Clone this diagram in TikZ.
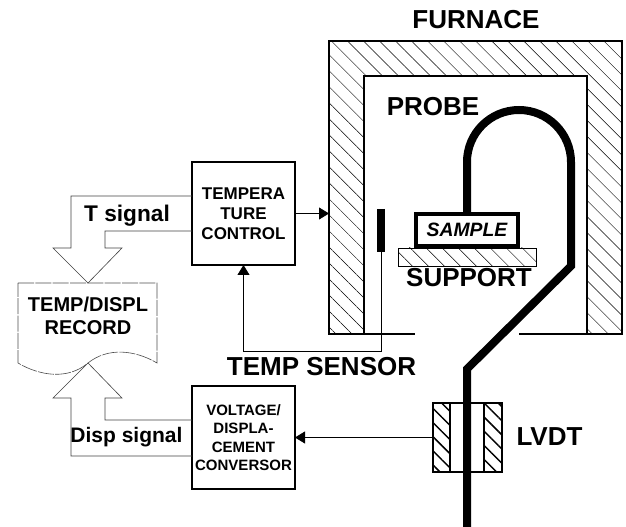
\documentclass[tikz,border=0pt]{standalone}
\usepackage{fontspec}
\setmainfont{Liberation Sans}
\usetikzlibrary{arrows.meta, patterns.meta}

\begin{document}
\begin{tikzpicture}[
    x=0.75pt, y=-0.75pt,
    every node/.style={
      inner sep=0pt, outer sep=0pt,
    },
    biglabel/.style={
      font=\bfseries\fontsize{19.5}{22}\selectfont
    },
    siglabel/.style={
      font=\bfseries\fontsize{#1}{20}\selectfont
    },
    ctrlbox/.style 2 args={
      draw, line width=1pt, minimum width=77.25pt, minimum height=77.25pt,
      align=center, font=\bfseries\fontsize{#1}{#2}\selectfont
    },
    wall/.style={
      draw, line width=0.8pt,
      pattern={Lines[angle=-45, distance=8.5pt, line width=0.35pt]}
    },
    coil/.style={
      draw, line width=1pt,
      pattern={Lines[angle=-45, distance=7.5pt, line width=1.1pt]}
    },
    probe/.style={
      line width=6pt, line join=miter
    },
    link/.style={
      line width=0.6pt, -{Triangle[length=7.5pt, width=9pt]}
    },
    hollow/.style={
      line width=0.45pt, draw=black!75, line join=miter
    }
  ]
  \useasboundingbox (0,0) rectangle (626,527);

  % furnace
  \draw[wall] (329,334) -- (329,41) -- (622,41) -- (622,334) -- (587,334)
    -- (587,76) -- (364,76) -- (364,334) -- cycle;
  \coordinate (gapl) at (415,334);
  \coordinate (gapr) at (519,334);
  \draw[line width=0.8pt] (364,334) -- (gapl);
  \draw[line width=0.8pt] (gapr) -- (587,334);

  % support and sample
  \draw[line width=0.6pt, pattern={Lines[angle=-45, distance=8.5pt, line width=0.35pt]}]
    (398,248) rectangle (536,266);
  \node[draw, line width=3pt, minimum width=76pt, minimum height=24pt,
    font=\bfseries\itshape\fontsize{14.5}{16}\selectfont] (sample) at (467,230) {SAMPLE};

  % probe
  \draw[probe] (sample.north) -- (467,162) arc[start angle=180, end angle=360, radius=52]
    -- (571,266) -- (467,369) -- (467,527);

  % lvdt
  \draw[line width=1pt] (433,403) rectangle (502,472);
  \node[coil, minimum width=12.75pt, minimum height=51.75pt] (coill) at (441.5,437.5) {};
  \node[coil, minimum width=13.5pt, minimum height=51.75pt] (coilr) at (493,437.5) {};

  % blocks
  \node[ctrlbox={12.75}{15}] (ctrl) at (243.5,213.5)
    {TEMPERA\\TURE\\CONTROL};
  \node[ctrlbox={11.25}{13.8}] (conv) at (243.5,437.5)
    {VOLTAGE/\\DISPLA-\\CEMENT\\CONVERSOR};

  % record
  \coordinate (rectop) at (88,283);
  \coordinate (recbot) at (88,363);
  \draw[line width=0.45pt, draw=black!70, dash pattern=on 12pt off 1pt]
    (18,283) -- (rectop) -- (157,283) -- (157,363)
    .. controls (135,350) and (108,347) .. (recbot)
    .. controls (68,380) and (40,376) .. (18,363) -- cycle;
  \node[font=\bfseries\fontsize{15}{17.3}\selectfont, align=center] (record) at (88,316)
    {TEMP/DISPL\\RECORD};

  % signals
  \draw[hollow] (ctrl.west) ++(0,-17.5) -- (71,196) -- (71,248) -- (53,248) -- (rectop)
    -- (122,248) -- (105,248) -- (105,231) -- ([yshift=-13.1pt]ctrl.west);
  \draw[hollow] (conv.west) ++(0,18.5) -- (71,456) -- (71,398) -- (53,398) -- (recbot)
    -- (122,398) -- (105,398) -- (105,420) -- ([yshift=13.1pt]conv.west);

  % sensor
  \coordinate (sensortop) at (381,209);
  \coordinate (sensorend) at (381,252);
  \draw[line width=6pt] (sensortop) -- (sensorend);
  \draw[link] (sensorend) -- (381,351) -- (243.5,351) -- (ctrl.south);

  % links
  \draw[link] (ctrl.east) -- (329,213.5);
  \draw[link] (coill.west) -- (conv.east);

  % labels
  \node[biglabel] (furnace) at (476,20) {FURNACE};
  \node[biglabel] (probelabel) at (433,107) {PROBE};
  \node[biglabel] (support) at (469,278) {SUPPORT};
  \node[biglabel] (sensor) at (321.5,367) {TEMP SENSOR};
  \node[biglabel] (lvdt) at (549.5,437) {LVDT};
  \node[siglabel=17] (tsignal) at (127,216) {T signal};
  \node[siglabel=15.75] (dsignal) at (126.5,437) {Disp signal};
\end{tikzpicture}
\end{document}
